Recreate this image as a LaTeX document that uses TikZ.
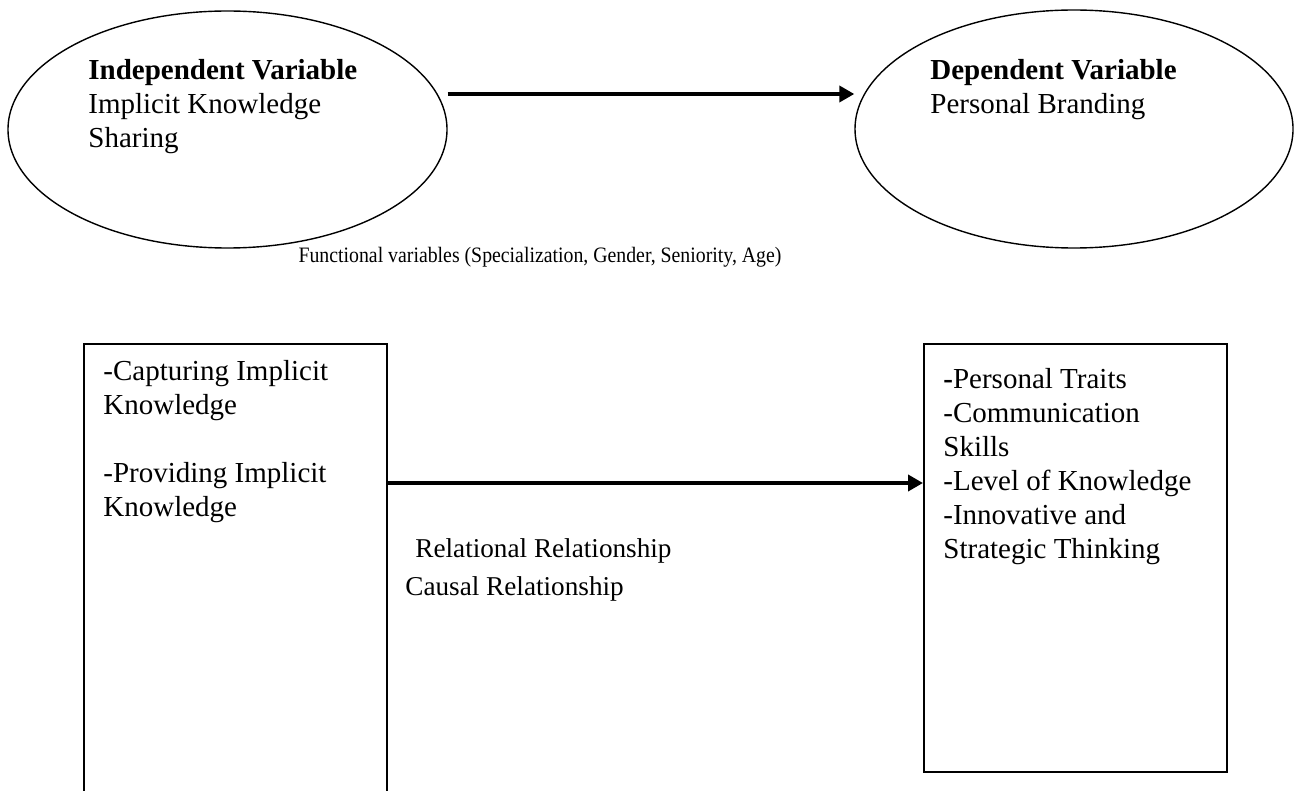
\documentclass[tikz,border=0pt]{standalone}
\usepackage{fontspec}
\usepackage{graphicx}
\setmainfont{Liberation Serif}
\usetikzlibrary{shapes.geometric,arrows.meta}

\begin{document}
\begin{tikzpicture}[
    x=0.5pt, y=-0.5pt,
    var/.style={ellipse, draw, line width=0.7pt, inner sep=0pt},
    dimbox/.style={rectangle, draw, line width=1pt, inner sep=0pt, anchor=north west, minimum width=151.5pt},
    link/.style={-{Triangle[length=7.5pt, width=8pt]}, line width=2pt},
    txt/.style={font=\fontsize{14.5}{17}\selectfont, align=left, anchor=base west, inner sep=0pt},
    rel/.style={font=\fontsize{13.6}{16}\selectfont, anchor=base west, inner sep=0pt}
]
    \clip (0,0) rectangle (1299,791);

    % Variables (text nodes sit on their last baseline)
    \node[var, minimum width=219.5pt, minimum height=118.5pt] (ivar) at (227.5,129.5) {};
    \node[var, minimum width=219pt, minimum height=119pt] (dvar) at (1074,129) {};
    \node[txt] (ivartext) at (88,148) {\textbf{Independent Variable}\\Implicit Knowledge\\Sharing};
    \node[txt] (dvartext) at (930,114) {\textbf{Dependent Variable}\\Personal Branding};

    \draw[link] (ivar.east |- 0,94) -- (dvar.west |- 0,94);

    % Functional variables
    \node[font=\fontsize{11}{13}\selectfont, anchor=base, inner sep=0pt] (funcvars) at (540,263)
        {\scalebox{0.9}[1]{Functional variables (Specialization, Gender, Seniority, Age)}};

    % Dimensions
    \node[dimbox, minimum height=228.5pt] (capbox) at (83,343) {};
    \node[dimbox, minimum height=214pt] (brandbox) at (923,343) {};
    \node[txt] (captext) at (103,516) {-Capturing Implicit\\Knowledge\\[17pt]-Providing Implicit\\Knowledge};
    \node[txt] (brandtext) at (943,558) {\textbf{-}Personal Traits\\-Communication\\Skills\\-Level of Knowledge\\-Innovative and\\Strategic Thinking};

    \draw[link] (capbox.east |- 0,483) -- (brandbox.west |- 0,483);

    % Relationships
    \node[rel] (reltext) at (415,557) {Relational Relationship};
    \node[rel] (causaltext) at (405,595) {Causal Relationship};

\end{tikzpicture}
\end{document}
